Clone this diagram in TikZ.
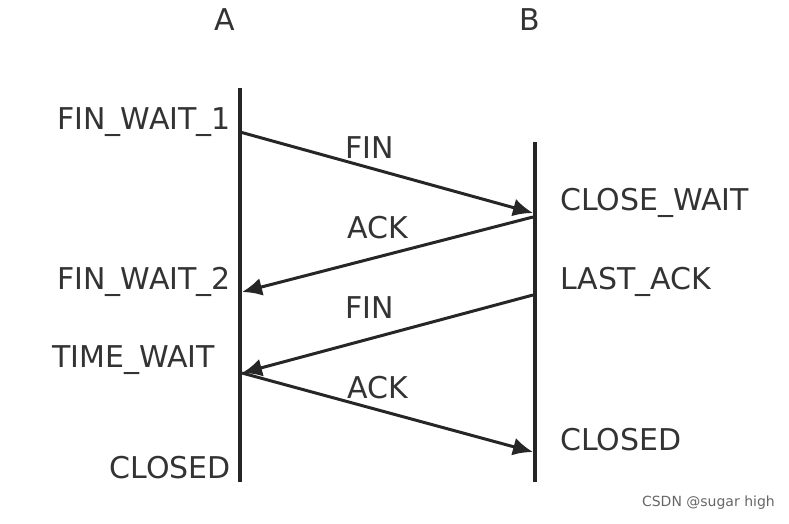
\documentclass[tikz,border=0pt]{standalone}
\usepackage{fontspec}
\setmainfont{DejaVu Sans}
\usetikzlibrary{arrows.meta}
\begin{document}
\begin{tikzpicture}[x=1pt,y=-1pt,
  lbl/.style={font=\fontsize{30}{34}\selectfont, text=black!80, inner sep=0pt},
  life/.style={line width=4pt, black!85},
  msg/.style={line width=3pt, black!85, -{Latex[length=20pt,width=18pt]}}]
\useasboundingbox (0,0) rectangle (789,523);
\node[lbl] (A) at (225,20) {A};
\node[lbl] (B) at (530,20) {B};
\coordinate (a0) at (240,88); \coordinate (a1) at (240,482);
\coordinate (b0) at (535,142); \coordinate (b1) at (535,482);
\draw[life] (a0) -- (a1);
\draw[life] (b0) -- (b1);
\coordinate (p1) at (240,132); \coordinate (q1) at (533,213);
\coordinate (q2) at (533,217); \coordinate (p2) at (242,292);
\coordinate (q3) at (533,295); \coordinate (p3) at (242,373);
\coordinate (p4) at (242,373); \coordinate (q4) at (533,452);
\draw[msg] (p1) -- (q1);
\draw[msg] (q2) -- (p2);
\draw[msg] (q3) -- (p3);
\draw[msg] (p4) -- (q4);
\node[lbl] (m1) at (370,148) {FIN};
\node[lbl] (m2) at (378,228) {ACK};
\node[lbl] (m3) at (370,308) {FIN};
\node[lbl] (m4) at (378,388) {ACK};
\node[lbl,anchor=east] (s1) at (231,122) {FIN\_WAIT\_1};
\node[lbl,anchor=east] (s2) at (231,282) {FIN\_WAIT\_2};
\node[lbl,anchor=west] (s3) at (52,360) {TIME\_WAIT};
\node[lbl,anchor=east] (s4) at (231,468) {CLOSED};
\node[lbl,anchor=west] (t1) at (560,203) {CLOSE\_WAIT};
\node[lbl,anchor=west] (t2) at (560,282) {LAST\_ACK};
\node[lbl,anchor=west] (t3) at (560,440) {CLOSED};
\node[font=\fontsize{14}{16}\selectfont, text=black!60, anchor=east, inner sep=0pt] (w) at (775,503) {CSDN @sugar high};
\end{tikzpicture}
\end{document}
